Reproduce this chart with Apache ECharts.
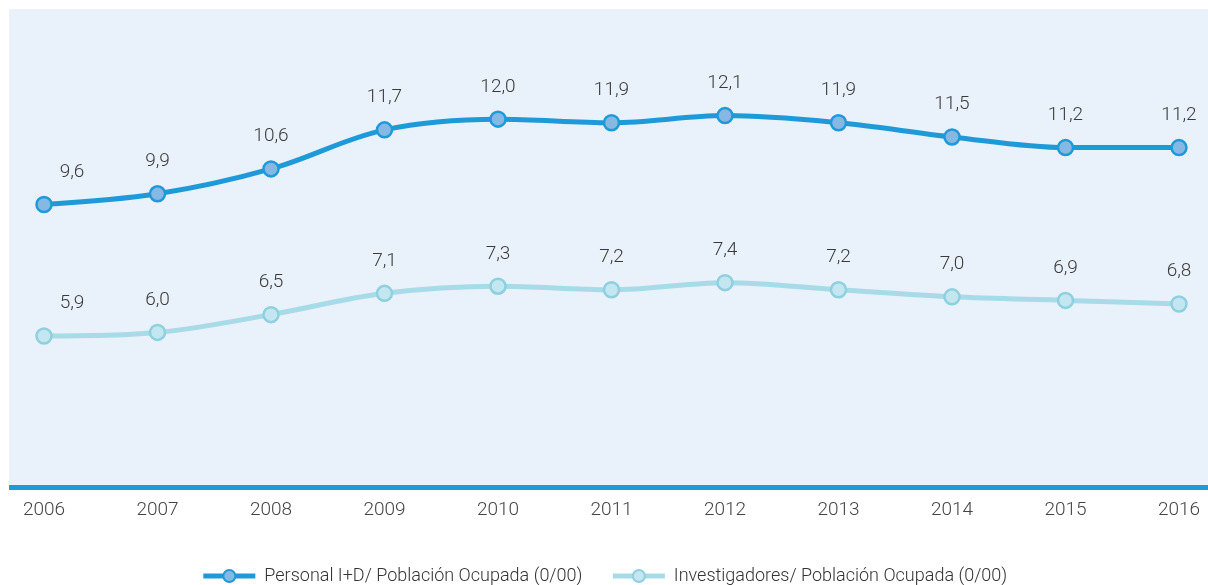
<!DOCTYPE html>
<html>
<head>
<meta charset="utf-8">
<script src="https://cdn.jsdelivr.net/npm/echarts@6/dist/echarts.min.js"></script>
<style>
  html, body { margin: 0; padding: 0; background: #fff; }
  #chart { width: 1208px; height: 585px; }
</style>
</head>
<body>
<div id="chart"></div>
<script>
const years = ['2006', '2007', '2008', '2009', '2010', '2011', '2012', '2013', '2014', '2015', '2016']
const personal = [9.6, 9.9, 10.6, 11.7, 12.0, 11.9, 12.1, 11.9, 11.5, 11.2, 11.2]
const investigadores = [5.9, 6.0, 6.5, 7.1, 7.3, 7.2, 7.4, 7.2, 7.0, 6.9, 6.8]
const names = ['Personal I+D/ Población Ocupada (0/00)', 'Investigadores/ Población Ocupada (0/00)']

const fmt = v => v.toFixed(1).replace('.', ',')
const withLabels = arr => arr.map((v, i) => i === 0
  ? { value: v, label: { offset: [28, 0] } }
  : v)

const chart = echarts.init(document.getElementById('chart'))

function series(name, data, lineColor, fillColor, borderColor) {
  return {
    name, type: 'line', data: withLabels(data),
    smooth: 0.35,
    symbol: 'circle', symbolSize: 15,
    lineStyle: { color: lineColor, width: 5 },
    itemStyle: { color: fillColor, borderColor: borderColor, borderWidth: 2.5 },
    label: {
      show: true, position: 'top', distance: 14,
      formatter: p => fmt(p.value),
      color: '#3a3a3a', fontSize: 19, fontFamily: 'Roboto', fontWeight: 300
    },
    z: 3
  }
}

chart.setOption({
  animation: false,
  graphic: [{
    type: 'rect', z: -10, silent: true,
    shape: { x: 9, y: 9, width: 1199, height: 478 },
    style: { fill: '#e9f1fa' }
  }],
  grid: { left: 44, right: 29, top: 9, bottom: 98 },
  xAxis: {
    type: 'category', data: years, boundaryGap: false,
    axisLine: { show: false },
    axisTick: { show: false },
    axisLabel: { color: '#444', fontSize: 19, fontFamily: 'Roboto', fontWeight: 300, margin: 14 }
  },
  yAxis: {
    type: 'value', min: 1.65, max: 15.1,
    show: false, splitLine: { show: false }
  },
  legend: {
    bottom: -5, left: 'center', itemGap: 28, itemWidth: 52, itemHeight: 15,
    lineStyle: { width: 5 },
    textStyle: { color: '#333', fontSize: 18, fontFamily: 'Roboto', fontWeight: 300, padding: [0, 0, 0, 4] },
    data: names
  },
  series: [
    series(names[0], personal, '#1f9ad8', '#86b8e4', '#1f9ad8'),
    series(names[1], investigadores, '#a7dbe7', '#c4e6f0', '#8fd0df'),
    {
      type: 'line', silent: true, data: [],
      markLine: {
        silent: true, symbol: 'none', label: { show: false },
        lineStyle: { color: '#1f9ad8', width: 5, type: 'solid' },
        data: [[{ x: 9, y: 487 }, { x: 1208, y: 487 }]]
      }
    }
  ]
})
</script>
</body>
</html>
